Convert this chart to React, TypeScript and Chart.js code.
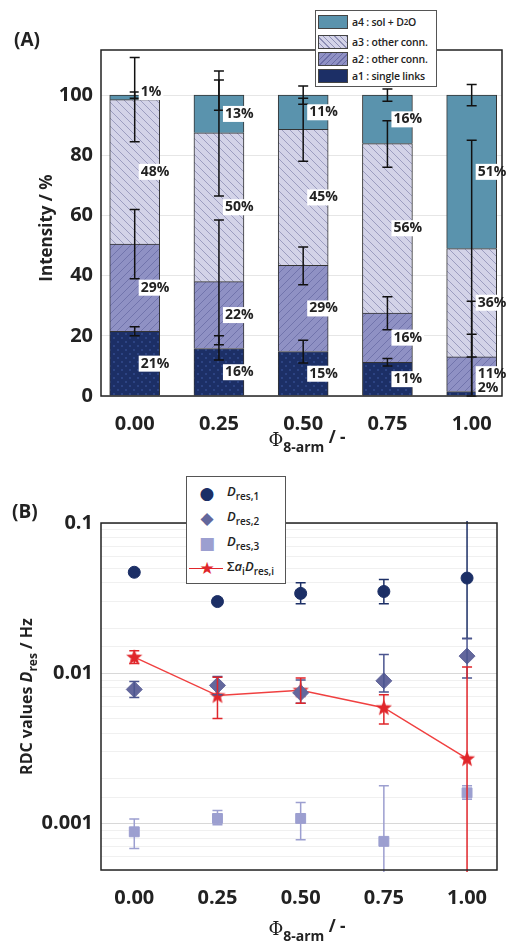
import React, { useEffect, useRef } from "react";
import { Chart, registerables } from "chart.js";

Chart.register(...registerables);

const phi = [0, 0.25, 0.5, 0.75, 1.0];

// panel A: stacked intensities (%), bottom to top
const a1 = [21.5, 15.8, 14.8, 11.2, 1.5];
const a2 = [29, 22.2, 28.6, 16.4, 11.5];
const a3 = [48, 49.5, 45.2, 56.3, 36];
const a4 = [1.5, 12.5, 11.4, 16.1, 51];
const a1Labels = ["21%", "16%", "15%", "11%", "2%"];
const a2Labels = ["29%", "22%", "29%", "16%", "11%"];
const a3Labels = ["48%", "50%", "45%", "56%", "36%"];
const a4Labels = ["1%", "13%", "11%", "16%", "51%"];
// error bars on each layer top [low, high]
const a1Err = [[20, 23], [12, 20], [11, 18.5], [10, 12.5], [0, 20.5]];
const a2Err = [[39, 62], [17, 58.5], [37, 49.5], [22, 33], [0, 31.5]];
const a3Err = [[84.5, 112.5], [66.5, 108], [78, 99], [76, 91.5], [13, 85]];
const a4Err = [[99, 101], [95, 105], [97, 103], [98, 102], [96.5, 103.5]];
const yTicksA = [0, 20, 40, 60, 80, 100];

// panel B: RDC values (Hz)
const d1 = [0.047, 0.030, 0.034, 0.035, 0.043];
const d1Err = [[0.047, 0.047], [0.030, 0.030], [0.029, 0.040], [0.029, 0.042], [0.017, 0.3]];
const d2 = [0.0078, 0.0083, 0.0074, 0.0089, 0.013];
const d2Err = [[0.0069, 0.0088], [0.0072, 0.0095], [0.0063, 0.0090], [0.0075, 0.0133], [0.0093, 0.017]];
const d3 = [0.00088, 0.00108, 0.00108, 0.00076, 0.0016];
const d3Err = [[0.00068, 0.00107], [0.00098, 0.00122], [0.00078, 0.00138], [0.0003, 0.00178], [0.00145, 0.00178]];
const dSum = [0.0128, 0.0071, 0.0077, 0.0059, 0.0027];
const dSumErr = [[0.0116, 0.0141], [0.005, 0.0094], [0.0063, 0.0093], [0.0046, 0.0072], [0.0001, 0.011]];

const NAVY = "#1c2f66";
const A2C = "#8f91c4";
const A3C = "#d3d3e8";
const A4C = "#5a93ad";
const RED = "#e0262b";
const FONT = "'Open Sans', 'DejaVu Sans', sans-serif";

function hatch(bg: string, line: string, dir: number, dots = false) {
  const c = document.createElement("canvas");
  c.width = 8;
  c.height = 8;
  const g = c.getContext("2d")!;
  g.fillStyle = bg;
  g.fillRect(0, 0, 8, 8);
  g.strokeStyle = line;
  g.fillStyle = line;
  g.lineWidth = 0.8;
  if (dots) {
    g.fillRect(1, 1, 2, 2);
    g.fillRect(5, 5, 2, 2);
  } else {
    g.beginPath();
    if (dir > 0) {
      g.moveTo(0, 8); g.lineTo(8, 0);
      g.moveTo(-2, 2); g.lineTo(2, -2);
      g.moveTo(6, 10); g.lineTo(10, 6);
    } else {
      g.moveTo(0, 0); g.lineTo(8, 8);
      g.moveTo(-2, 6); g.lineTo(2, 10);
      g.moveTo(6, -2); g.lineTo(10, 2);
    }
    g.stroke();
  }
  return g.createPattern(c, "repeat")!;
}

function starImage() {
  const c = document.createElement("canvas");
  c.width = 18;
  c.height = 18;
  const g = c.getContext("2d")!;
  g.fillStyle = RED;
  g.beginPath();
  for (let i = 0; i < 10; i++) {
    const r = i % 2 === 0 ? 8.5 : 3.6;
    const a = -Math.PI / 2 + (i * Math.PI) / 5;
    g.lineTo(9 + r * Math.cos(a), 9.5 + r * Math.sin(a));
  }
  g.closePath();
  g.fill();
  return c;
}

const frame = {
  id: "frame",
  afterDraw(chart: any) {
    const { ctx, chartArea: a } = chart;
    ctx.save();
    ctx.strokeStyle = "#222";
    ctx.lineWidth = 1.5;
    ctx.strokeRect(a.left, a.top, a.right - a.left, a.bottom - a.top);
    ctx.restore();
  },
};

const errorBars = {
  id: "errorBars",
  afterDatasetsDraw(chart: any) {
    const { ctx, scales, chartArea: a } = chart;
    ctx.save();
    ctx.beginPath();
    ctx.rect(a.left, a.top - 2, a.right - a.left, a.bottom - a.top + 4);
    ctx.clip();
    chart.data.datasets.forEach((ds: any) => {
      if (!ds.errors) return;
      ctx.strokeStyle = ds.errColor || "#111";
      ctx.lineWidth = 1.5;
      ds.errors.forEach((e: number[], i: number) => {
        const x = scales.x.getPixelForValue(phi[i]);
        const lo = scales.y.getPixelForValue(e[0]);
        const hi = scales.y.getPixelForValue(e[1]);
        ctx.beginPath();
        ctx.moveTo(x, lo); ctx.lineTo(x, hi);
        ctx.moveTo(x - 5, lo); ctx.lineTo(x + 5, lo);
        ctx.moveTo(x - 5, hi); ctx.lineTo(x + 5, hi);
        ctx.stroke();
      });
    });
    ctx.restore();
  },
};

const percentLabels = {
  id: "percentLabels",
  afterDraw(chart: any) {
    const { ctx, scales } = chart;
    ctx.save();
    ctx.font = `bold 14px ${FONT}`;
    ctx.textBaseline = "middle";
    const base = [0, 0, 0, 0, 0];
    chart.data.datasets.forEach((ds: any) => {
      ds.data.forEach((p: any, i: number) => {
        const top = base[i] + p.y;
        let mid = base[i] + p.y / 2;
        if (p.y < 5) mid = top + 1;
        base[i] = top;
        const txt = ds.pct[i];
        const w = ctx.measureText(txt).width;
        const x = scales.x.getPixelForValue(phi[i]) + 4;
        const y = scales.y.getPixelForValue(mid);
        ctx.fillStyle = "#fff";
        ctx.fillRect(x, y - 8, w + 4, 16);
        ctx.fillStyle = "#222";
        ctx.fillText(txt, x + 2, y);
      });
    });
    ctx.restore();
  },
};

function phiTitle(ctx: any, cx: number, y: number) {
  ctx.save();
  ctx.fillStyle = "#222";
  ctx.textBaseline = "alphabetic";
  ctx.font = `18px 'DejaVu Serif', serif`;
  const w1 = ctx.measureText("Φ").width;
  ctx.font = `bold 14px ${FONT}`;
  const w2 = ctx.measureText("8-arm").width;
  ctx.font = `bold 17px ${FONT}`;
  const w3 = ctx.measureText(" / -").width;
  let x = cx - (w1 + w2 + w3) / 2;
  ctx.font = `18px 'DejaVu Serif', serif`;
  ctx.fillText("Φ", x, y);
  x += w1;
  ctx.font = `bold 14px ${FONT}`;
  ctx.fillText("8-arm", x, y + 6);
  x += w2;
  ctx.font = `bold 17px ${FONT}`;
  ctx.fillText(" / -", x, y - 3);
  ctx.restore();
}

const titlesA = {
  id: "titlesA",
  afterDraw(chart: any) {
    const { ctx, chartArea: a } = chart;
    phiTitle(ctx, 307, 446);
    ctx.save();
    ctx.font = `bold 17px ${FONT}`;
    ctx.fillStyle = "#222";
    ctx.translate(52, (a.top + a.bottom) / 2 + 5);
    ctx.rotate(-Math.PI / 2);
    ctx.textAlign = "center";
    ctx.fillText("Intensity / %", 0, 0);
    ctx.restore();
  },
};

const titlesB = {
  id: "titlesB",
  afterDraw(chart: any) {
    const { ctx, chartArea: a } = chart;
    phiTitle(ctx, 307, 465);
    ctx.save();
    ctx.fillStyle = "#222";
    ctx.translate(32, (a.top + a.bottom) / 2);
    ctx.rotate(-Math.PI / 2);
    const parts: [string, string, number][] = [
      ["RDC values ", `bold 16px ${FONT}`, 0],
      ["D", `italic bold 16px ${FONT}`, 0],
      ["res", `bold 12px ${FONT}`, 5],
      [" / Hz", `bold 16px ${FONT}`, 0],
    ];
    let total = 0;
    parts.forEach(([t, f]) => { ctx.font = f; total += ctx.measureText(t).width; });
    let x = -total / 2;
    parts.forEach(([t, f, dy]) => {
      ctx.font = f;
      ctx.fillText(t, x, dy);
      x += ctx.measureText(t).width;
    });
    ctx.restore();
  },
};

const xScale = (height: number) => ({
  type: "linear" as const,
  min: -0.1,
  max: 1.09,
  offset: false,
  afterBuildTicks: (s: any) => { s.ticks = phi.map((v) => ({ value: v })); },
  afterFit: (s: any) => { s.height = height; },
  grid: { display: false, offset: false },
  border: { display: false },
  ticks: { color: "#222", font: { family: FONT, size: 20, weight: "bold" as const }, callback: (v: any) => Number(v).toFixed(2), padding: 8 },
});

function ChartA() {
  const ref = useRef<HTMLCanvasElement>(null);
  useEffect(() => {
    if (!ref.current) return;
    const mk = (label: string, vals: number[], bg: any, pct: string[], errors: number[][]) => ({
      label, data: vals.map((y, i) => ({ x: phi[i], y })), backgroundColor: bg, pct, errors,
      borderColor: "#333", borderWidth: 1, barThickness: 50,
    });
    const chart = new Chart(ref.current, {
      type: "bar",
      data: {
        datasets: [
          mk("a1 : single links", a1, hatch(NAVY, "#2c4383", 0, true), a1Labels, a1Err),
          mk("a2 : other conn.", a2, hatch(A2C, "#6a6ca6", 1), a2Labels, a2Err),
          mk("a3 : other conn.", a3, hatch(A3C, "#8e8fb5", -1), a3Labels, a3Err),
          mk("a4 : sol + D2O", a4, A4C, a4Labels, a4Err),
        ] as any,
      },
      options: {
        animation: false,
        responsive: false,
        layout: { padding: { top: 50, right: 4 } },
        plugins: { legend: { display: false }, tooltip: { enabled: false } },
        scales: {
          x: { ...xScale(64), stacked: true },
          y: {
            stacked: true, min: 0, max: 115,
            afterBuildTicks: (s: any) => { s.ticks = yTicksA.map((v) => ({ value: v })); },
            afterFit: (s: any) => { s.width = 101; },
            grid: { color: "#e6e6e6", drawTicks: false },
            border: { display: false },
            ticks: { color: "#222", font: { family: FONT, size: 20, weight: "bold" }, padding: 8 },
          },
        },
      },
      plugins: [errorBars, percentLabels, frame, titlesA],
    });
    return () => chart.destroy();
  }, []);
  return <canvas ref={ref} width={506} height={460} style={{ position: "absolute", left: 0, top: 0 }} />;
}

function ChartB() {
  const ref = useRef<HTMLCanvasElement>(null);
  useEffect(() => {
    if (!ref.current) return;
    const pts = (v: number[]) => v.map((y, i) => ({ x: phi[i], y }));
    const chart = new Chart(ref.current, {
      type: "scatter",
      data: {
        datasets: [
          { label: "Dres,1", data: pts(d1), pointStyle: "circle", pointRadius: 6, backgroundColor: NAVY, borderColor: NAVY, errors: d1Err, errColor: NAVY },
          { label: "Dres,2", data: pts(d2), pointStyle: "rectRot", pointRadius: 8, backgroundColor: "#63679c", borderColor: "#63679c", errors: d2Err, errColor: "#4b558f" },
          { label: "Dres,3", data: pts(d3), pointStyle: "rect", pointRadius: 7, backgroundColor: "#9c9fd0", borderColor: "#9c9fd0", errors: d3Err, errColor: "#9c9fd0" },
          { label: "sum", data: pts(dSum), pointStyle: starImage(), showLine: true, borderColor: "#f04040", borderWidth: 1.5, backgroundColor: RED, errors: dSumErr, errColor: RED },
        ] as any,
      },
      options: {
        animation: false,
        responsive: false,
        layout: { padding: { top: 53, right: 4 } },
        plugins: { legend: { display: false }, tooltip: { enabled: false } },
        scales: {
          x: xScale(72),
          y: {
            type: "logarithmic", min: 0.00049, max: 0.1,
            afterFit: (s: any) => { s.width = 101; },
            grid: {
              drawTicks: false,
              color: (c: any) => {
                const v = c.tick ? c.tick.value : 0;
                const l = Math.log10(v);
                return Math.abs(l - Math.round(l)) < 1e-6 ? "#d8d8d8" : "#f0f0f0";
              },
            },
            border: { display: false },
            ticks: {
              color: "#222", font: { family: FONT, size: 20, weight: "bold" }, padding: 8, autoSkip: false,
              callback: (v: any) => {
                const l = Math.log10(Number(v));
                return Math.abs(l - Math.round(l)) < 1e-6 ? String(Number(v)) : "";
              },
            },
          },
        },
      },
      plugins: [errorBars, frame, titlesB],
    });
    return () => chart.destroy();
  }, []);
  return <canvas ref={ref} width={506} height={472} style={{ position: "absolute", left: 0, top: 470 }} />;
}

const sw = (bg: string) => ({ width: 28, height: 12, border: "1px solid #444", background: bg, marginRight: 4, flex: "none" });

export default function App() {
  const legendRow = { display: "flex", alignItems: "center", height: 17, whiteSpace: "nowrap" } as const;
  return (
    <div style={{ position: "absolute", left: 0, top: 0, width: 506, height: 942, background: "#fff", fontFamily: FONT, color: "#222" }}>
      <ChartA />
      <ChartB />
      <div style={{ position: "absolute", left: 14, top: 26, fontSize: 19, fontWeight: "bold" }}>(A)</div>
      <div style={{ position: "absolute", left: 12, top: 498, fontSize: 19, fontWeight: "bold" }}>(B)</div>
      <div style={{ position: "absolute", left: 315, top: 10, width: 116, padding: "2px 2px", border: "1px solid #555", background: "#fff", fontSize: 10.5, fontWeight: 600, letterSpacing: -0.2 }}>
        <div style={{ ...legendRow, marginBottom: 3 }}><div style={sw(A4C)} />a4 : sol + D<sub style={{ fontSize: 8 }}>2</sub>O</div>
        <div style={legendRow}><div style={sw(`repeating-linear-gradient(45deg, ${A3C} 0 3px, #8e8fb5 3px 4px)`)} />a3 : other conn.</div>
        <div style={legendRow}><div style={sw(`repeating-linear-gradient(-45deg, ${A2C} 0 3px, #6a6ca6 3px 4px)`)} />a2 : other conn.</div>
        <div style={legendRow}><div style={sw(NAVY)} />a1 : single links</div>
      </div>
      <div style={{ position: "absolute", left: 186, top: 476, width: 98, height: 106, border: "1px solid #555", background: "#fff", fontSize: 13, fontWeight: 600 }}>
        {[
          ["●", NAVY, "1"],
          ["◆", "#63679c", "2"],
          ["■", "#9c9fd0", "3"],
        ].map(([g, c, n]) => (
          <div key={n} style={{ display: "flex", alignItems: "center", height: 25, marginTop: n === "1" ? 3 : 0 }}>
            <span style={{ width: 40, textAlign: "center", color: c, fontSize: 17 }}>{g}</span>
            <span><i>D</i><sub style={{ fontSize: 10 }}>res,{n}</sub></span>
          </div>
        ))}
        <div style={{ display: "flex", alignItems: "center", height: 25 }}>
          <span style={{ width: 40, display: "flex", alignItems: "center", justifyContent: "center", position: "relative" }}>
            <span style={{ position: "absolute", left: 2, right: 4, top: "50%", height: 1.5, background: RED }} />
            <span style={{ color: RED, fontSize: 17, position: "relative" }}>★</span>
          </span>
          <span>Σ<i>a</i><sub style={{ fontSize: 10 }}>i</sub><i>D</i><sub style={{ fontSize: 10 }}>res,i</sub></span>
        </div>
      </div>
    </div>
  );
}
